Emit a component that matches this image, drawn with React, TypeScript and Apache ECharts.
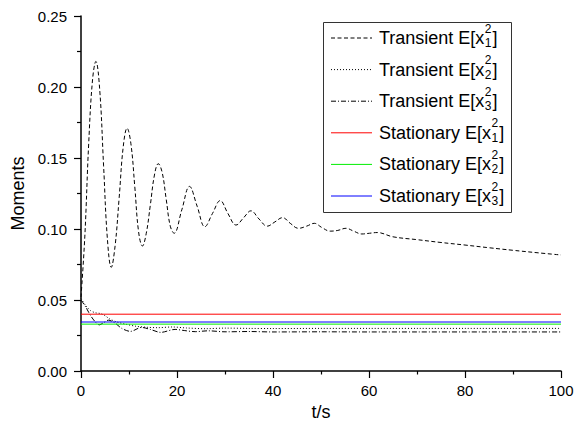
import React, { useEffect, useRef } from "react";
import * as echarts from "echarts";

// Transient E[x1^2] (dashed)
const t1 = [0, 0.8, 1.6, 2.4, 3.1, 3.9, 4.7, 5.5, 6.3, 7.1, 7.95, 8.8, 9.6, 10.4, 11.2, 12.0, 12.8, 13.6, 14.45, 15.3, 16.1, 16.9, 17.75, 18.6, 19.4, 21.0, 22.6, 24.2, 25.8, 27.4, 29.0, 30.6, 32.3, 33.9, 35.4, 37.1, 38.8, 40.4, 42.0, 43.6, 45.3, 47.0, 48.6, 50.2, 51.9, 53.5, 55.2, 56.8, 58.5, 60.1, 61.7, 65, 70, 75, 80, 85, 90, 95, 100];
const v1 = [0.052, 0.095, 0.160, 0.205, 0.218, 0.198, 0.145, 0.093, 0.073, 0.088, 0.122, 0.158, 0.171, 0.160, 0.130, 0.098, 0.088, 0.097, 0.117, 0.138, 0.146, 0.140, 0.121, 0.102, 0.097, 0.1135, 0.130, 0.116, 0.1016, 0.111, 0.120, 0.111, 0.1028, 0.108, 0.1128, 0.107, 0.102, 0.105, 0.108, 0.104, 0.1005, 0.102, 0.104, 0.101, 0.0985, 0.099, 0.1005, 0.0985, 0.0965, 0.097, 0.0975, 0.0945, 0.0925, 0.0905, 0.0887, 0.0868, 0.085, 0.0833, 0.0817];

// Transient E[x2^2] (dotted)
const t2 = [0, 1, 2, 3, 4, 5, 6, 7.5, 9.5, 11.5, 13.7, 16, 19, 22, 26, 30, 35, 40, 50, 60, 70, 80, 90, 100];
const v2 = [0.051, 0.046, 0.0425, 0.041, 0.0405, 0.039, 0.0366, 0.0345, 0.0328, 0.0315, 0.0308, 0.0305, 0.031, 0.0303, 0.0298, 0.0302, 0.030, 0.0299, 0.030, 0.030, 0.030, 0.030, 0.030, 0.030];

// Transient E[x3^2] (dash-dot)
const t3 = [0, 1, 2, 3, 3.8, 4.7, 5.7, 7, 8.5, 10.3, 12.6, 14.5, 16.6, 19.6, 21.5, 23.8, 26.5, 30, 35, 40, 50, 60, 70, 80, 90, 100];
const v3 = [0.050, 0.045, 0.039, 0.0345, 0.0325, 0.034, 0.0358, 0.034, 0.030, 0.0279, 0.0307, 0.0292, 0.0272, 0.0293, 0.0285, 0.0277, 0.0283, 0.0276, 0.0278, 0.0275, 0.0276, 0.0275, 0.0275, 0.0275, 0.0275, 0.0275];

// Stationary values
const tRange = [0, 100];
const stat1 = 0.040;
const stat2 = 0.033;
const stat3 = 0.0345;

const legendPrefixes = ["Transient", "Transient", "Transient", "Stationary", "Stationary", "Stationary"];
const legendSubs = ["1", "2", "3", "1", "2", "3"];

const FONT = "'Liberation Sans', Arial, Helvetica, sans-serif";

const pairs = (ts: number[], vs: number[]) => ts.map((t, i) => [t, vs[i]]);

export default function App() {
  const ref = useRef<HTMLDivElement>(null);
  useEffect(() => {
    if (!ref.current) return;
    const chart = echarts.init(ref.current, undefined, { renderer: "svg" });

    const canvas = document.createElement("canvas");
    const ctx = canvas.getContext("2d")!;
    const measure = (s: string, size: number) => {
      ctx.font = `${size}px ${FONT}`;
      return ctx.measureText(s).width;
    };

    const dashes: any[] = [
      { type: [4, 2.5] },
      { type: [1, 2] },
      { type: [5, 2, 1, 2] },
      { type: "solid", color: "#ff0000" },
      { type: "solid", color: "#00ee00" },
      { type: "solid", color: "#0000ff" },
    ];

    const legendEls: any[] = [];
    legendEls.push({
      type: "rect",
      shape: { x: 323.5, y: 22.5, width: 188, height: 190 },
      style: { fill: "#fff", stroke: "#333", lineWidth: 1 },
      z: 100,
    });
    const mainSize = 18;
    const smallSize = 12;
    legendPrefixes.forEach((p, i) => {
      const rowY = 38 + i * 31.6;
      const d = dashes[i];
      legendEls.push({
        type: "line",
        shape: { x1: 331, y1: rowY, x2: 372, y2: rowY },
        style: {
          stroke: d.color || "#000",
          lineWidth: 1,
          lineDash: d.type === "solid" ? null : d.type,
        },
        z: 101,
      });
      const prefix = `${p} E[x`;
      const x0 = 379;
      const w = measure(prefix, mainSize);
      const ws = measure("2", smallSize);
      legendEls.push({
        type: "text",
        x: x0,
        y: rowY,
        style: { text: prefix, font: `${mainSize}px ${FONT}`, fill: "#000", verticalAlign: "middle", align: "left" },
        z: 101,
      });
      legendEls.push({
        type: "text",
        x: x0 + w + 0.5,
        y: rowY - 9.5,
        style: { text: "2", font: `${smallSize}px ${FONT}`, lineHeight: 12, fill: "#000", verticalAlign: "middle", align: "left" },
        z: 101,
      });
      legendEls.push({
        type: "text",
        x: x0 + w + 0.5,
        y: rowY + 5,
        style: { text: legendSubs[i], font: `${smallSize}px ${FONT}`, lineHeight: 12, fill: "#000", verticalAlign: "middle", align: "left" },
        z: 101,
      });
      legendEls.push({
        type: "text",
        x: x0 + w + ws + 1.5,
        y: rowY,
        style: { text: "]", font: `${mainSize}px ${FONT}`, fill: "#000", verticalAlign: "middle", align: "left" },
        z: 101,
      });
    });

    const lineSeries = (name: string, data: number[][], lineStyle: any, smooth: any) => ({
      name,
      type: "line",
      data,
      showSymbol: false,
      symbol: "none",
      smooth,
      lineStyle,
      silent: true,
    });

    chart.setOption({
      animation: false,
      backgroundColor: "#fff",
      textStyle: { fontFamily: FONT },
      grid: { left: 81, right: 22, top: 16, bottom: 53, containLabel: false, outerBoundsMode: "none" },
      xAxis: {
        type: "value",
        min: 0,
        max: 100,
        interval: 20,
        name: "t/s",
        nameLocation: "middle",
        nameGap: 28,
        nameTextStyle: { fontSize: 18, color: "#000", fontFamily: FONT },
        axisLine: { show: true, lineStyle: { color: "#000", width: 1.5 } },
        axisTick: { show: true, length: 7, lineStyle: { color: "#000", width: 1.2 } },
        minorTick: { show: true, splitNumber: 2, length: 3.5, lineStyle: { color: "#000", width: 1.2 } },
        axisLabel: { fontSize: 15, color: "#000", margin: 12, fontFamily: FONT },
        splitLine: { show: false },
      },
      yAxis: {
        type: "value",
        min: 0,
        max: 0.25,
        interval: 0.05,
        name: "Moments",
        nameLocation: "middle",
        nameGap: 50,
        nameTextStyle: { fontSize: 18, color: "#000", fontFamily: FONT },
        axisLine: { show: true, lineStyle: { color: "#000", width: 1.5 } },
        axisTick: { show: true, length: 7, lineStyle: { color: "#000", width: 1.2 } },
        minorTick: { show: true, splitNumber: 2, length: 4, lineStyle: { color: "#000", width: 1.2 } },
        axisLabel: {
          fontSize: 15,
          color: "#000",
          margin: 14,
          fontFamily: FONT,
          formatter: (v: number) => v.toFixed(2),
        },
        splitLine: { show: false },
      },
      graphic: legendEls,
      series: [
        lineSeries("Transient E[x1^2]", pairs(t1, v1), { color: "#000", width: 1, type: [4, 2.5] }, 0.4),
        lineSeries("Transient E[x2^2]", pairs(t2, v2), { color: "#000", width: 1, type: [1, 2] }, 0.3),
        lineSeries("Transient E[x3^2]", pairs(t3, v3), { color: "#000", width: 1, type: [5, 2, 1, 2] }, 0.3),
        lineSeries("Stationary E[x1^2]", tRange.map((t) => [t, stat1]), { color: "#ff0000", width: 1 }, false),
        lineSeries("Stationary E[x2^2]", tRange.map((t) => [t, stat2]), { color: "#00ee00", width: 1 }, false),
        lineSeries("Stationary E[x3^2]", tRange.map((t) => [t, stat3]), { color: "#0000ff", width: 1 }, false),
      ],
    });
    return () => chart.dispose();
  }, []);
  return (
    <div
      ref={ref}
      style={{ position: "fixed", left: 0, top: 0, width: 583, height: 424, background: "#fff" }}
    />
  );
}
